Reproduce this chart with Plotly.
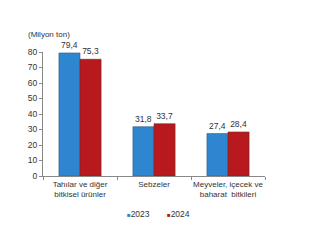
import plotly.graph_objects as go

categories = ["Tahılar ve diğer<br>bitkisel ürünler", "Sebzeler", "Meyveler, içecek ve<br>baharat  bitkileri"]
values_2023 = [79.4, 31.8, 27.4]
values_2024 = [75.3, 33.7, 28.4]
labels_2023 = ["79,4", "31,8", "27,4"]
labels_2024 = ["75,3", "33,7", "28,4"]
y_ticks = [0, 10, 20, 30, 40, 50, 60, 70, 80]
series_names = ["2023", "2024"]
colors = ["#2D86CF", "#B8191F"]
edges = ["#3A5F80", "#6E2A2C"]

font = "Liberation Sans, Arial, sans-serif"
fig = go.Figure()
for name, vals, labs, c, e in zip(series_names, [values_2023, values_2024], [labels_2023, labels_2024], colors, edges):
    fig.add_trace(go.Bar(name=name, x=categories, y=vals, text=labs, showlegend=False,
                         textposition="outside", marker=dict(color=c, line=dict(color=e, width=0.6)),
                         textfont=dict(size=8.5, color="#333333"), cliponaxis=False))

legend_x = [0.37, 0.55]
annotations = [dict(text="(Milyon ton)", x=-0.075, xref="paper", y=1.14, yref="paper",
                    xanchor="left", yanchor="middle",
                    showarrow=False, font=dict(size=8, color="#333333"))]
for name, c, lx in zip(series_names, colors, legend_x):
    annotations.append(dict(text=f"<span style='color:{c};font-size:6px'>■</span>{name}",
                            x=lx, xref="paper", y=-0.305, yref="paper", xanchor="left",
                            yanchor="middle", showarrow=False,
                            font=dict(size=8.5, color="#333333")))

fig.update_layout(
    width=326, height=245,
    margin=dict(l=43, r=61, t=52, b=69),
    paper_bgcolor="white", plot_bgcolor="white",
    barmode="group", bargap=0.43, bargroupgap=0,
    font=dict(family=font, size=8, color="#333333"),
    showlegend=False,
    annotations=annotations,
)
fig.update_yaxes(range=[0, 80], tickvals=y_ticks, showgrid=False, showline=True,
                 linecolor="#888888", linewidth=1, ticks="outside", ticklen=3,
                 tickcolor="#888888", tickfont=dict(size=8.5, color="#333333"), zeroline=False)
fig.update_xaxes(showline=True, linecolor="#888888", linewidth=1, ticks="outside",
                 tickson="boundaries", ticklen=3, tickcolor="#888888", tickangle=0,
                 tickfont=dict(size=8, color="#333333"))

fig.write_html("out.html")
